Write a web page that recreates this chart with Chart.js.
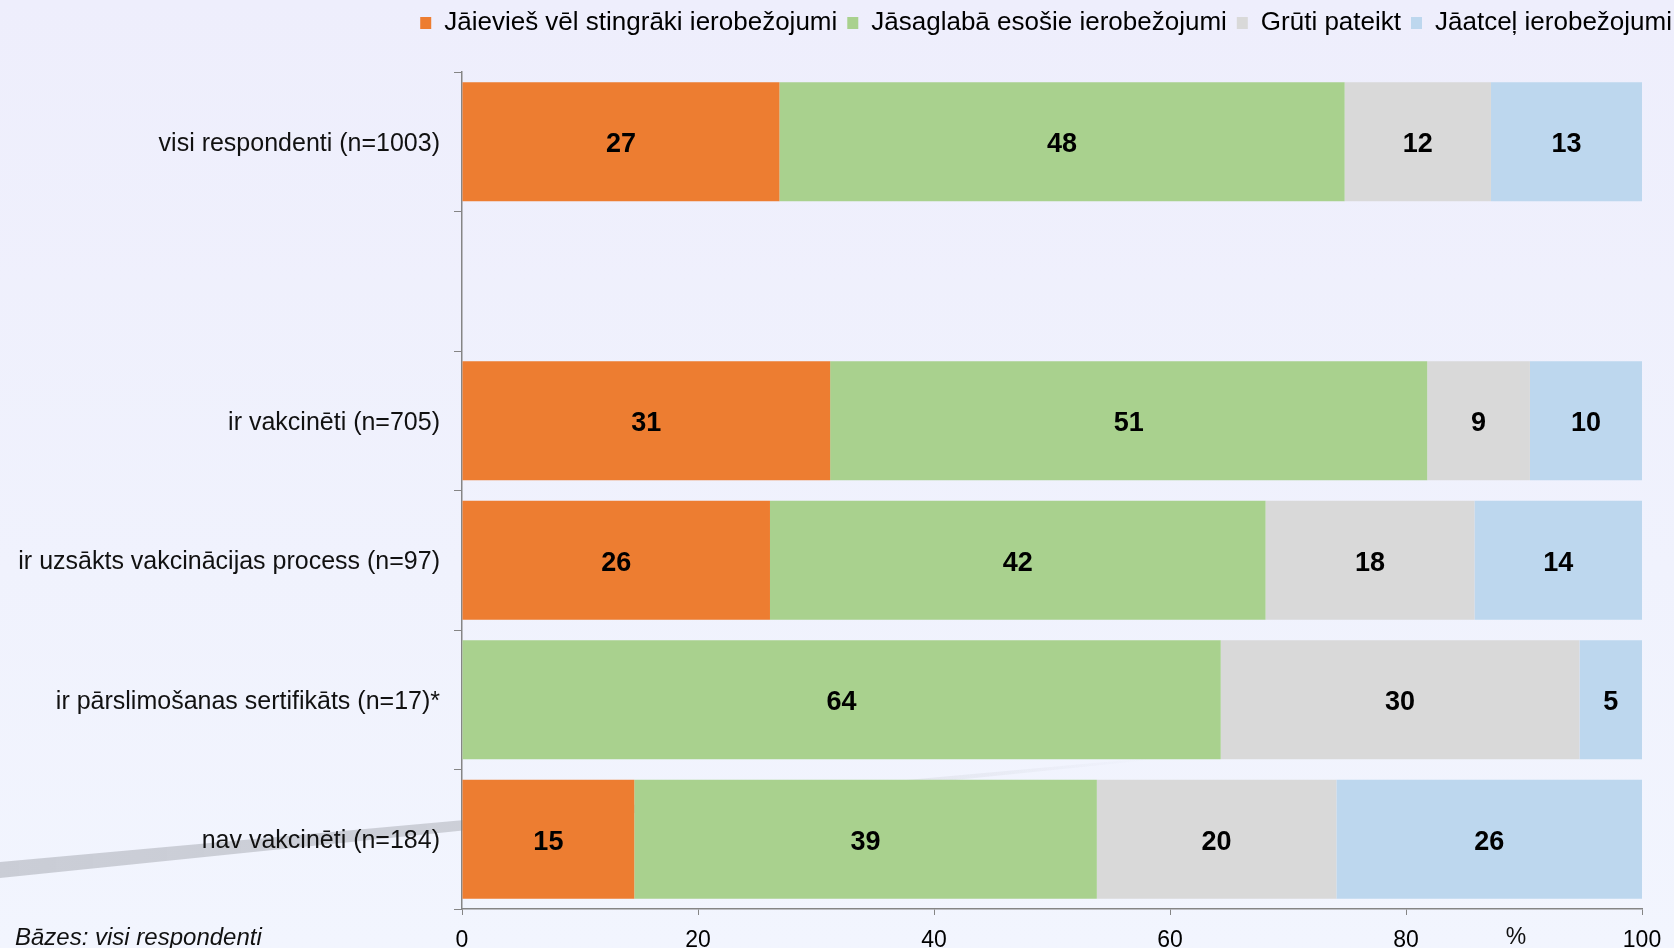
<!DOCTYPE html>
<html>
<head>
<meta charset="utf-8">
<script src="https://cdn.jsdelivr.net/npm/chart.js@4"></script>
<style>
  html, body { margin: 0; padding: 0; }
  body {
    width: 1674px; height: 948px; overflow: hidden;
    background: linear-gradient(180deg, #eeeefc 0%, #f0f2fd 60%, #f2f5fe 100%);
  }
  #wrap { position: relative; width: 1674px; height: 948px; }
</style>
</head>
<body>
<div id="wrap"><canvas id="chart"></canvas></div>
<script>
'use strict';

// ── Data ──────────────────────────────────────────────────────
const categories = [
  'visi respondenti (n=1003)',
  '',
  'ir vakcinēti (n=705)',
  'ir uzsākts vakcinācijas process (n=97)',
  'ir pārslimošanas sertifikāts (n=17)*',
  'nav vakcinēti (n=184)',
];
const seriesNames = [
  'Jāievieš vēl stingrāki ierobežojumi',
  'Jāsaglabā esošie ierobežojumi',
  'Grūti pateikt',
  'Jāatceļ ierobežojumi',
];
const stricter = [26.9, null, 31.2, 26.1, 0,    14.6];
const keep     = [47.9, null, 50.6, 42.0, 64.3, 39.2];
const hard     = [12.4, null, 8.7,  17.7, 30.4, 20.3];
const lift     = [12.8, null, 9.5,  14.2, 5.3,  25.9];
const xTicks   = [0, 20, 40, 60, 80, 100];

// ── Theme ─────────────────────────────────────────────────────
const FONT = "'Liberation Sans', Arial, sans-serif";
const COLORS = ['#ed7d31', '#a9d18e', '#d9d9d9', '#bdd7ee'];
const AXIS = '#858585';

// decorative grey swoosh behind the plot
const swoosh = {
  id: 'swoosh',
  beforeDraw(chart) {
    const { ctx } = chart;
    ctx.save();
    const g = ctx.createLinearGradient(0, 0, 1150, 0);
    g.addColorStop(0, 'rgba(202,205,214,1)');
    g.addColorStop(0.42, 'rgba(202,205,214,0.95)');
    g.addColorStop(1, 'rgba(202,205,214,0)');
    ctx.fillStyle = g;
    ctx.beginPath();
    ctx.moveTo(0, 862);
    ctx.lineTo(1150, 758);
    ctx.lineTo(1150, 760);
    ctx.lineTo(0, 878);
    ctx.closePath();
    ctx.fill();
    ctx.restore();
  },
};

// leave a gap between the legend row and the plot
const legendGap = {
  id: 'legendGap',
  beforeLayout(chart) {
    const lg = chart.legend;
    if (!lg || lg._gapPatched) return;
    const fit = lg.fit.bind(lg);
    lg.fit = function () { fit(); this.height += 26; };
    lg._gapPatched = true;
  },
};

// value labels in the middle of each segment
const valueLabels = {
  id: 'valueLabels',
  afterDatasetsDraw(chart) {
    const { ctx } = chart;
    ctx.save();
    ctx.font = `bold 27px ${FONT}`;
    ctx.fillStyle = '#000';
    ctx.textAlign = 'center';
    ctx.textBaseline = 'middle';
    chart.data.datasets.forEach((ds, i) => {
      const meta = chart.getDatasetMeta(i);
      meta.data.forEach((bar, j) => {
        const v = ds.data[j];
        if (v == null || v < 0.5) return;
        ctx.fillText(Math.round(v), (bar.x + bar.base) / 2, bar.y + 3);
      });
    });
    ctx.restore();
  },
};

// footnote and unit
const extraText = {
  id: 'extraText',
  afterDraw(chart) {
    const { ctx } = chart;
    ctx.save();
    ctx.fillStyle = '#111';
    ctx.textBaseline = 'middle';
    ctx.font = `italic 24px ${FONT}`;
    ctx.textAlign = 'left';
    ctx.fillText('Bāzes: visi respondenti', 15, 938);
    ctx.font = `23px ${FONT}`;
    ctx.textAlign = 'center';
    ctx.fillText('%', 1516, 938);
    ctx.restore();
  },
};

const datasets = [stricter, keep, hard, lift].map((d, i) => ({
  label: seriesNames[i],
  data: d,
  backgroundColor: COLORS[i],
  borderWidth: 0,
  barPercentage: 0.853,
  categoryPercentage: 1,
}));

new Chart(document.getElementById('chart'), {
  type: 'bar',
  data: { labels: categories, datasets },
  plugins: [swoosh, legendGap, valueLabels, extraText],
  options: {
    indexAxis: 'y',
    responsive: true,
    maintainAspectRatio: false,
    animation: false,
    layout: { padding: { left: 0, right: -8, top: 0, bottom: 0 } },
    scales: {
      x: {
        stacked: true,
        min: 0,
        max: 100,
        afterBuildTicks: s => { s.ticks = xTicks.map(v => ({ value: v })); },
        afterFit: s => { s.paddingRight = 32; s.height = 39; },
        grid: { drawOnChartArea: false, tickLength: 6, color: AXIS },
        border: { color: AXIS, width: 1.5 },
        ticks: { color: '#000', font: { size: 23, family: FONT }, padding: 12, maxRotation: 0 },
      },
      y: {
        stacked: true,
        afterFit: s => { s.width = 462; },
        grid: { drawOnChartArea: false, tickLength: 8, color: AXIS, offset: true },
        border: { color: AXIS, width: 1.5 },
        ticks: { color: '#111', font: { size: 25, family: FONT }, padding: 14, labelOffset: 2 },
      },
    },
    plugins: {
      legend: {
        position: 'top',
        align: 'end',
        labels: {
          color: '#000',
          font: { size: 26, family: FONT },
          boxWidth: 11,
          boxHeight: 12,
          padding: 10,
        },
      },
      tooltip: { enabled: false },
    },
  },
});
</script>
</body>
</html>
